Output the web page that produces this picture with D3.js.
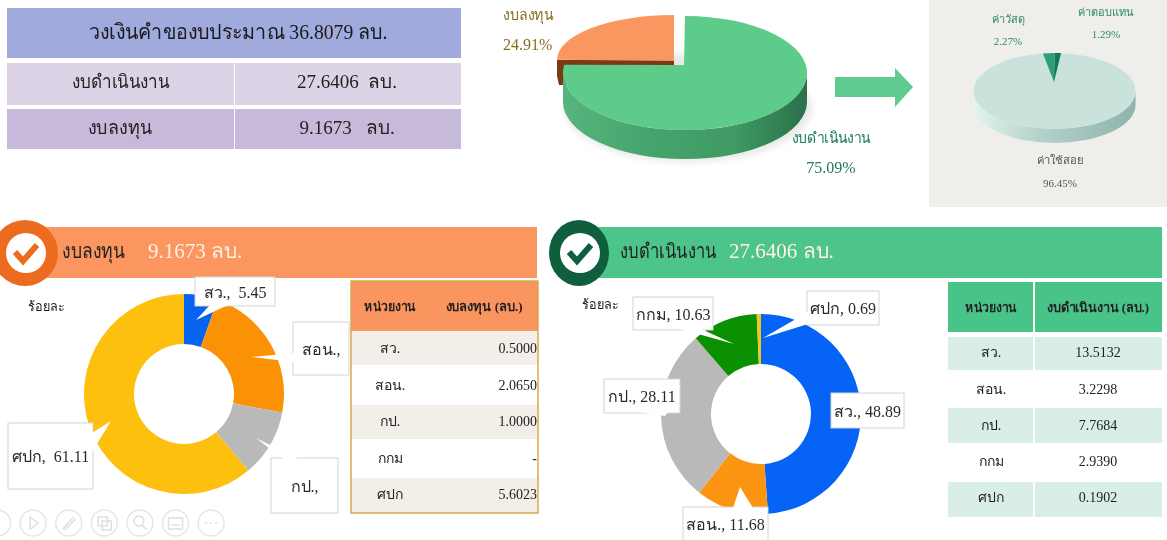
<!DOCTYPE html>
<html><head><meta charset="utf-8">
<script src="https://cdn.jsdelivr.net/npm/d3@7/dist/d3.min.js"></script>
<style>html,body{margin:0;padding:0;background:#fff}svg{display:block;filter:blur(0.4px)}text{font-family:"Liberation Serif","Noto Sans",serif}</style>
</head><body><svg id="c" width="1167" height="540"></svg>
<script>
// ---------- data ----------
const budgetTitle = "วงเงินคำของบประมาณ 36.8079 ลบ.";
const budgetNames = ["งบดำเนินงาน", "งบลงทุน"];
const budgetAmounts = ["27.6406  ลบ.", "9.1673   ลบ."];
const budgetShare = [75.09, 24.91];
const opexNames = ["ค่าตอบแทน", "ค่าใช้สอย", "ค่าวัสดุ"];
const opexShare = [1.29, 96.45, 2.27];
const units = ["สว.", "สอน.", "กป.", "กกม", "ศปก"];
const capexAmounts = ["0.5000", "2.0650", "1.0000", "-", "5.6023"];
const opexAmounts = ["13.5132", "3.2298", "7.7684", "2.9390", "0.1902"];
const capexPercent = [5.45, 22.53, 10.91, 0, 61.11];
const opexPercent = [48.89, 11.68, 28.11, 10.63, 0.69];
const capexColors = ["#0563f0", "#fb9206", "#b9b9b9", "#0a9300", "#fec00f"];
const opexColors = ["#0563f5", "#fb9410", "#b9b9b9", "#0a9000", "#f0c820"];

const svg = d3.select("#c");
const defs = svg.append("defs");
function grad(id, stops){
  const g = defs.append("linearGradient").attr("id", id);
  stops.forEach(s => g.append("stop").attr("offset", s[0]).attr("stop-color", s[1]));
}
grad("gSide", [[0,"#57b47c"],[0.35,"#46a56c"],[0.7,"#3f9a63"],[1,"#2b7049"]]);
grad("gSide2", [[0,"#e4f3ef"],[0.4,"#b4d2cb"],[1,"#8fb3ab"]]);
defs.append("filter").attr("id","soft").append("feGaussianBlur").attr("stdDeviation",3);

function txt(x,y,s,o={}){
  const t = svg.append("text").attr("x",x).attr("y",y).text(s)
    .attr("text-anchor",o.a||"middle").attr("font-size",o.s||16).attr("fill",o.f||"#222")
    .attr("font-weight",o.w||"normal").style("white-space","pre");
  if(o.L) t.attr("textLength",o.L).attr("lengthAdjust","spacingAndGlyphs");
  return t;
}

// ---------- top table ----------
svg.append("rect").attr("x",7).attr("y",8).attr("width",454).attr("height",50).attr("fill","#a0aadd");
txt(238,39,budgetTitle,{s:21,f:"#1a1a1a",L:299});
const topRows = [{y:63,h:42,f:"#dcd3e6",L:98,c:121},{y:109,h:40,f:"#c6b9d9",L:64,c:120}];
topRows.forEach((r,i)=>{
  svg.append("rect").attr("x",7).attr("y",r.y).attr("width",227).attr("height",r.h).attr("fill",r.f);
  svg.append("rect").attr("x",235).attr("y",r.y).attr("width",226).attr("height",r.h).attr("fill",r.f);
  txt(r.c,r.y+25,budgetNames[i],{s:19,L:r.L});
  txt(347,r.y+25,budgetAmounts[i],{s:19});
});

// ---------- pseudo 3D pies ----------
function pt(c,a){ return [c.x+c.rx*Math.sin(a), c.y-c.ry*Math.cos(a)]; }
function facePath(c,a0,a1,apex){
  const p0=pt(c,a0),p1=pt(c,a1),large=(a1-a0)>Math.PI?1:0;
  return `M${apex[0]},${apex[1]}L${p0[0]},${p0[1]}A${c.rx},${c.ry} 0 ${large} 1 ${p1[0]},${p1[1]}Z`;
}
function sidePath(c,a0,a1){
  const p0=pt(c,a0),p1=pt(c,a1);
  return `M${p0[0]},${p0[1]}A${c.rx},${c.ry} 0 0 1 ${p1[0]},${p1[1]}L${p1[0]},${p1[1]+c.d}A${c.rx},${c.ry} 0 0 0 ${p0[0]},${p0[1]+c.d}Z`;
}
const pie0 = d3.pie().sort(null);
const bArcs = pie0(budgetShare);
const gC = {x:685,y:73,rx:122,ry:57,d:29};
const oC = {x:674,y:60,rx:117,ry:45};
const perspectiveTilt = 0.14; // the tilted view flattens the slice's left edge
svg.append("ellipse").attr("cx",688).attr("cy",108).attr("rx",124).attr("ry",54).attr("fill","#9a9a9a").attr("opacity",.22).attr("filter","url(#soft)");
// orange slice with its dark wall
svg.append("path").attr("d","M557,60L674,60L674,67L566,67L566,85L559,85L557,76Z").attr("fill","#7a3a17");
svg.append("path").attr("d",facePath(oC,bArcs[1].startAngle,bArcs[1].endAngle,[674,61])).attr("fill","#fa9660");
// green slice
svg.append("path").attr("d",sidePath(gC,Math.PI/2,3*Math.PI/2)).attr("fill","url(#gSide)");
svg.append("path").attr("d",facePath(gC,bArcs[0].startAngle,bArcs[0].endAngle+perspectiveTilt,[684,65])).attr("fill","#5dcb8a");

txt(503,20,budgetNames[1],{a:"start",s:15,f:"#8a6d1e",L:50});
txt(503,50,budgetShare[1].toFixed(2)+"%",{a:"start",s:16,f:"#8a6d1e"});
txt(831,143,budgetNames[0],{s:15,f:"#1e7a58",L:79});
txt(831,173,budgetShare[0].toFixed(2)+"%",{s:16,f:"#1e7a58"});

// arrow
svg.append("path").attr("d","M835,77H895V68L913,87L895,107V97H835Z").attr("fill","#5fcb8e");

// second pie panel
svg.append("rect").attr("x",929).attr("y",0).attr("width",238).attr("height",207).attr("fill","#efeeea");
const oArcs = pie0(opexShare);
const sC = {x:1054.5,y:91,rx:81,ry:38,d:14};
svg.append("path").attr("d",sidePath(sC,Math.PI/2,3*Math.PI/2)).attr("fill","url(#gSide2)");
const wedgeColors = ["#0e7a58","#c9e2dc","#2f9c7a"];
const apex2=[1054,82];
svg.append("ellipse").attr("cx",sC.x).attr("cy",sC.y).attr("rx",sC.rx).attr("ry",sC.ry).attr("fill",wedgeColors[1]);
oArcs.forEach((a,i)=>{
  if(i!==1) svg.append("path").attr("d",facePath(sC,a.startAngle,a.endAngle,apex2)).attr("fill",wedgeColors[i]);
});
txt(1008,23,opexNames[2],{s:11,f:"#2a8a6a",L:33});
txt(1008,45,opexShare[2].toFixed(2)+"%",{s:11,f:"#2a8a6a"});
txt(1106,16,opexNames[0],{s:11,f:"#2a8a6a",L:56});
txt(1106,38,opexShare[0].toFixed(2)+"%",{s:11,f:"#2a8a6a"});
txt(1060,164,opexNames[1],{s:11,f:"#555",L:46});
txt(1060,187,opexShare[1].toFixed(2)+"%",{s:11,f:"#555"});

// ---------- banners ----------
function banner(x0,x1,cx,rx,fill,ring,title,amount,tx,ax,L){
  svg.append("rect").attr("x",x0).attr("y",227).attr("width",x1-x0).attr("height",51).attr("fill",fill);
  svg.append("ellipse").attr("cx",cx).attr("cy",253).attr("rx",rx).attr("ry",33).attr("fill",ring);
  svg.append("circle").attr("cx",cx+1).attr("cy",253).attr("r",20).attr("fill","#fff");
  svg.append("path").attr("d",`M${cx-10},${252}L${cx-2},${261}L${cx+12},${245}`).attr("fill","none").attr("stroke",ring).attr("stroke-width",6);
  txt(tx,258,title,{a:"start",s:20,f:"#222",L});
  txt(ax,258,amount,{a:"start",s:21,f:"#fff2e4"});
}
banner(30,537,25,33,"#fb9660","#ec6b1e",budgetNames[1],"9.1673 ลบ.",62,148,63);
banner(575,1162,579,30,"#4cc48a","#0f5f3f",budgetNames[0],"27.6406 ลบ.",620,729,97);

// ---------- donuts ----------
function donut(cx,cy,values,colors){
  const arc=d3.arc().innerRadius(50).outerRadius(100);
  const g=svg.append("g").attr("transform",`translate(${cx},${cy})`);
  g.selectAll("path").data(d3.pie().sort(null)(values)).join("path")
    .attr("d",arc).attr("fill",(d,i)=>colors[i]);
}
donut(184,394,capexPercent,capexColors);
donut(761,414,opexPercent,opexColors);
txt(28,311,"ร้อยละ",{a:"start",s:13,L:37});
txt(582,309,"ร้อยละ",{a:"start",s:13,L:37});

// ---------- callouts ----------
function callout(b,text,tail,size){
  svg.append("rect").attr("x",b[0]).attr("y",b[1]).attr("width",b[2]-b[0]).attr("height",b[3]-b[1])
    .attr("fill","#fff").attr("stroke","#d4d4d4").attr("stroke-width",1);
  if(tail) svg.append("path").attr("d",d3.line()(tail)).attr("fill","#fff");
  txt((b[0]+b[2])/2,(b[1]+b[3])/2+6,text,{s:size||16,f:"#2a2a2a"});
}
const lbl=(i,v)=>units[i]+",  "+v.toFixed(2);
callout([195,277,275,306],lbl(0,capexPercent[0]),[[210,305],[196,320],[228,305]]);
callout([293,322,349,375],units[1]+",",[[294,353],[251,357],[294,362]]);
callout([271,458,338,513],units[2]+",",[[283,459],[256,438],[298,459]]);
callout([8,423,93,489],units[4]+",  "+capexPercent[4].toFixed(2),[[92,433],[111,421],[92,452]]);

const lbl2=(i)=>units[i]+", "+opexPercent[i].toFixed(2);
callout([807,291,879,325],lbl2(4),[[808,312],[763,338],[808,324]]);
callout([633,297,713,330],lbl2(3),[[680,329],[734,344],[701,329]]);
callout([604,379,680,413],lbl2(2),[[640,412],[665,416],[668,412]]);
callout([831,393,904,428],lbl2(0));
callout([683,507,768,541],lbl2(1),[[733,508],[740,487],[753,508]]);

// ---------- tables ----------
function table(o){
  svg.append("rect").attr("x",o.x).attr("y",o.hy).attr("width",o.w).attr("height",o.hh).attr("fill",o.head);
  svg.selectAll(null).data(o.rows).join("rect")
    .attr("x",o.x).attr("y",d=>d.y).attr("width",o.w).attr("height",d=>d.h).attr("fill",d=>d.f);
  txt(o.c1,o.hy+o.hh/2+5,"หน่วยงาน",{s:13,w:"bold",L:52});
  txt(o.c2,o.hy+o.hh/2+5,o.title,{s:13,w:"bold",L:o.TL});
  o.rows.forEach((r,i)=>{
    txt(o.c1,r.c+5,units[i],{s:14});
    txt(o.vx,r.c+5,o.vals[i],{s:14,a:o.va});
  });
  if(o.divider) svg.append("line").attr("x1",o.divider).attr("x2",o.divider).attr("y1",o.hy).attr("y2",o.rows[4].y+o.rows[4].h).attr("stroke","#fff").attr("stroke-width",2);
  if(o.border) svg.append("rect").attr("x",o.x).attr("y",o.hy).attr("width",o.w).attr("height",o.rows[4].y+o.rows[4].h-o.hy).attr("fill","none").attr("stroke",o.border).attr("stroke-width",1.5);
}
table({x:351,w:187,hy:281,hh:50,head:"#fb9560",c1:390,c2:484,vx:537,va:"end",vals:capexAmounts,title:"งบลงทุน (ลบ.)",TL:77,border:"#d8ab4c",
  rows:[{y:331,h:34,c:348,f:"#f2efe9"},{y:365,h:40,c:385,f:"#fff"},{y:405,h:34,c:421,f:"#f2efe9"},{y:439,h:39,c:458,f:"#fff"},{y:478,h:35,c:494,f:"#f2efe9"}]});
table({x:948,w:214,hy:282,hh:50,head:"#49c489",c1:991,c2:1098,vx:1098,va:"middle",vals:opexAmounts,title:"งบดำเนินงาน (ลบ.)",TL:102,divider:1034,
  rows:[{y:337,h:33,c:352,f:"#d9eee4"},{y:370,h:38,c:389,f:"#fff"},{y:408,h:35,c:425,f:"#d9eee4"},{y:443,h:39,c:461,f:"#fff"},{y:482,h:35,c:497,f:"#d9eee4"}]});

// ---------- slideshow toolbar ----------
const toolbarButtons = ["", "M-3,-6L5,0L-3,6Z", "M-6,6L5,-6M-4,7L7,-4", "M-6,-6H3V3H-6ZM-2,-2H7V7H-2Z", "M-6,-2A5,5 0 1 1 4,-2A5,5 0 1 1 -6,-2M2,2L7,7", "M-7,-5H7V6H-7ZM-4,2H4", "M-6,0H-4M-1,0H1M4,0H6"];
const tb = svg.selectAll(null).data(toolbarButtons).join("g")
  .attr("transform",(d,i)=>`translate(${-2.5+i*35.6},523)`);
tb.append("circle").attr("r",13).attr("fill","none").attr("stroke","#e6e6e6").attr("stroke-width",1.5);
tb.append("path").attr("d",d=>d).attr("fill","none").attr("stroke","#dedede").attr("stroke-width",1.5);
</script></body></html>
